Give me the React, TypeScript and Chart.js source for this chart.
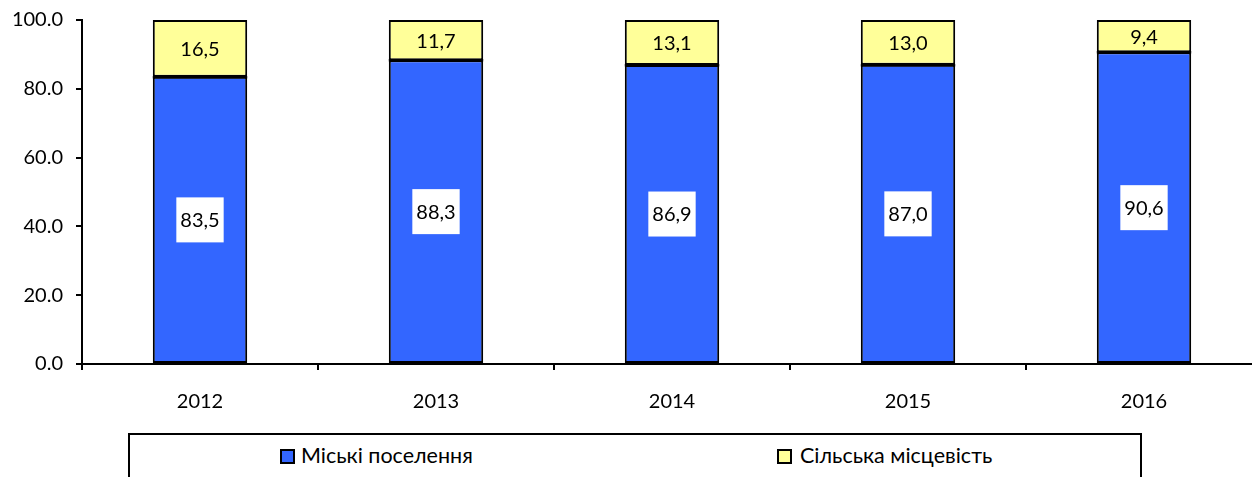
import React, { useEffect, useRef } from "react";
import { Chart, registerables } from "chart.js";

Chart.register(...registerables);

const categories = ["2012", "2013", "2014", "2015", "2016"];
const urbanValues = [83.5, 88.3, 86.9, 87.0, 90.6];
const ruralValues = [16.5, 11.7, 13.1, 13.0, 9.4];
const seriesNames = ["Міські поселення", "Сільська місцевість"];
const yTicks = [0, 20, 40, 60, 80, 100];

const FONT = "Lato, 'Open Sans', sans-serif";
const BLUE = "#3366FF";
const YELLOW = "#FFFF99";

const fmt = (v: number) => v.toFixed(1).replace(".", ",");

const labelPlugin = {
  id: "segLabels",
  afterDatasetsDraw(chart: any) {
    const ctx = chart.ctx;
    ctx.save();
    // seam between stacked segments
    const top = chart.getDatasetMeta(1);
    top.data.forEach((el: any) => {
      const { x, base, width } = el.getProps(["x", "base", "width"], true);
      ctx.fillStyle = "#000000";
      ctx.fillRect(x - width / 2, Math.round(base) - 1, width, 2.5);
    });
    ctx.font = `20px ${FONT}`;
    ctx.textAlign = "center";
    ctx.textBaseline = "middle";
    chart.data.datasets.forEach((ds: any, di: number) => {
      const meta = chart.getDatasetMeta(di);
      meta.data.forEach((el: any, i: number) => {
        const { x, y, base } = el.getProps(["x", "y", "base"], true);
        const cy = (y + base) / 2;
        const text = fmt(ds.data[i]);
        if (di === 0) {
          const w = ctx.measureText(text).width + 8;
          const h = 45;
          ctx.fillStyle = "#FFFFFF";
          ctx.fillRect(x - w / 2, cy - h / 2, w, h);
        }
        ctx.fillStyle = "#000000";
        ctx.fillText(text, x, cy + 1);
      });
    });
    ctx.restore();
  },
};

export default function App() {
  const canvasRef = useRef<HTMLCanvasElement | null>(null);

  useEffect(() => {
    document.body.style.margin = "0";
    const canvas = canvasRef.current!;
    const chart = new Chart(canvas, {
      type: "bar",
      data: {
        labels: categories,
        datasets: [
          {
            label: seriesNames[0],
            data: urbanValues,
            backgroundColor: BLUE,
            borderColor: "#000000",
            borderWidth: 2,
            borderSkipped: false,
            barPercentage: 0.8,
            categoryPercentage: 0.5,
          },
          {
            label: seriesNames[1],
            data: ruralValues,
            backgroundColor: YELLOW,
            borderColor: "#000000",
            borderWidth: 2,
            borderSkipped: false,
            barPercentage: 0.8,
            categoryPercentage: 0.5,
          },
        ],
      },
      options: {
        animation: false,
        responsive: false,
        maintainAspectRatio: false,
        layout: { padding: { top: 20, left: 0, right: 8, bottom: 0 } },
        plugins: {
          legend: { display: false },
          tooltip: { enabled: false },
        },
        scales: {
          x: {
            stacked: true,
            offset: true,
            grid: {
              offset: true,
              drawOnChartArea: false,
              drawTicks: true,
              tickLength: 6,
              color: "#000000",
              lineWidth: 2,
            },
            border: { display: true, color: "#000000", width: 2 },
            ticks: {
              color: "#000000",
              font: { family: FONT, size: 20 },
              padding: 20,
              maxRotation: 0,
            },
            afterFit: (scale: any) => {
              scale.height = 113;
            },
          },
          y: {
            stacked: true,
            min: 0,
            max: 100,
            afterBuildTicks: (scale: any) => {
              scale.ticks = yTicks.map((v) => ({ value: v }));
            },
            grid: {
              drawOnChartArea: false,
              drawTicks: true,
              tickLength: 6,
              color: "#000000",
              lineWidth: 2,
            },
            border: { display: true, color: "#000000", width: 2 },
            ticks: {
              color: "#000000",
              font: { family: FONT, size: 20 },
              padding: 13,
              callback: (v: any) => Number(v).toFixed(1),
            },
            afterFit: (scale: any) => {
              scale.width = 82;
              scale.paddingTop = 0;
              scale.paddingBottom = 0;
            },
          },
        },
      },
      plugins: [labelPlugin],
    });
    return () => chart.destroy();
  }, []);

  const sq = (color: string): React.CSSProperties => ({
    position: "absolute",
    width: 11,
    height: 11,
    background: color,
    border: "2px solid #000",
    top: 14,
  });

  const txt = (left: number): React.CSSProperties => ({
    position: "absolute",
    left,
    top: 7,
    fontSize: 21.5,
    lineHeight: "26px",
    color: "#000",
    whiteSpace: "nowrap",
  });

  return (
    <div
      style={{
        position: "relative",
        width: 1252,
        height: 477,
        overflow: "hidden",
        fontFamily: FONT,
      }}
    >
      <canvas
        ref={canvasRef}
        width={1270}
        height={477}
        style={{ position: "absolute", left: 0, top: 0, width: 1270, height: 477 }}
      />
      <div
        style={{
          position: "absolute",
          left: 128,
          top: 433,
          width: 1010,
          height: 60,
          border: "2px solid #000",
          background: "#fff",
        }}
      >
        <div style={{ ...sq(BLUE), left: 150 }} />
        <div style={txt(171)}>{seriesNames[0]}</div>
        <div style={{ ...sq(YELLOW), left: 647 }} />
        <div style={txt(670)}>{seriesNames[1]}</div>
      </div>
    </div>
  );
}
